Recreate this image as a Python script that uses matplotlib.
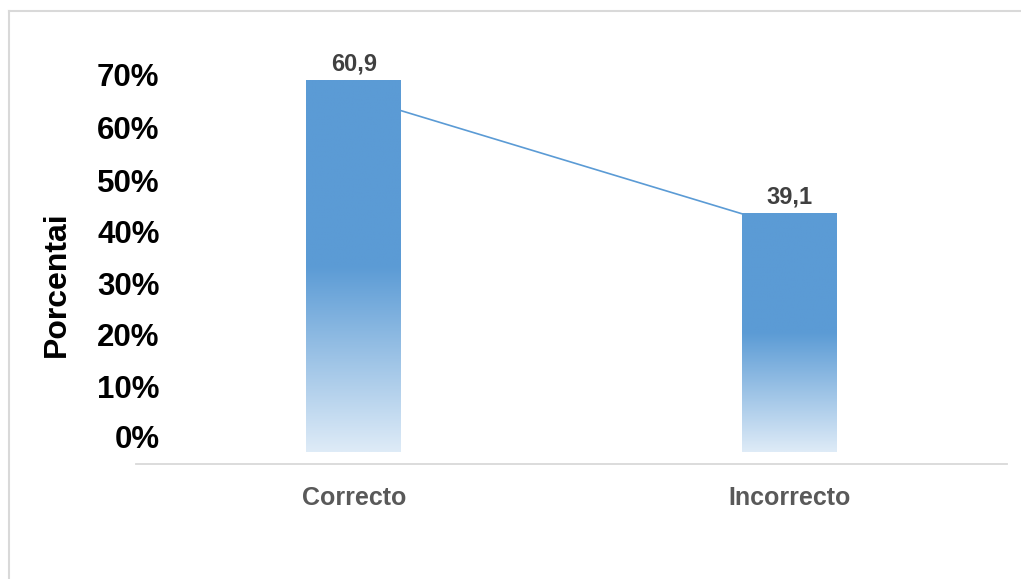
import numpy as np
import matplotlib
matplotlib.use("Agg")
import matplotlib.pyplot as plt
from matplotlib.colors import to_rgb
from matplotlib.lines import Line2D

plt.rcParams['font.family'] = ['Liberation Sans', 'DejaVu Sans']

categories = ['Correcto', 'Incorrecto']
values = [60.9, 39.1]
line_values = [56.0, 39.1]  # connector drawn between the two bars
tick_labels = ['0%', '10%', '20%', '30%', '40%', '50%', '60%', '70%']
tick_pos = [2.5, 10.7, 19.2, 27.7, 36.1, 44.6, 53.3, 61.9]  # labels sit off-scale in the original

blue = to_rgb('#5B9BD5')
pale = to_rgb('#DEEBF7')
bar_w = 0.218

fig = plt.figure(figsize=(10.21, 5.79), dpi=100)
ax = fig.add_axes([0.1332, 0.1986, 0.853, 0.7323])

x = np.arange(len(categories))

# gradient bars: solid top half, fading lower half
n = 200
t = np.linspace(0, 1, n)  # 0 = bottom, 1 = top
frac = np.clip(t / 0.5, 0, 1)
cols = np.array([[pale[i] + (blue[i] - pale[i]) * f for i in range(3)] for f in frac])
img = cols[::-1].reshape(n, 1, 3)
for xi, v in zip(x, values):
    ax.imshow(img, extent=[xi - bar_w / 2, xi + bar_w / 2, 0, v], aspect='auto',
              interpolation='bilinear', zorder=2)
    ax.annotate(f"{v:.1f}".replace('.', ','), (xi, v), xytext=(0, 4),
                textcoords='offset points', ha='center', va='bottom',
                fontsize=17, fontweight='bold', color='#404040')

ax.plot([x[0] + bar_w / 2, x[1] - bar_w / 2], line_values, color='#5B9BD5', lw=1.2, zorder=3)

ax.set_xlim(-0.5, 1.5)
ax.set_ylim(-1.97, 67.6)

for s in ['top', 'right', 'left']:
    ax.spines[s].set_visible(False)
ax.spines['bottom'].set_color('#D9D9D9')
ax.spines['bottom'].set_linewidth(1.3)

ax.set_xticks(x)
ax.set_xticklabels(categories, fontsize=18, fontweight='bold', color='#595959')
ax.tick_params(axis='x', length=0, pad=16)
ax.set_yticks(tick_pos)
ax.set_yticklabels(tick_labels, fontsize=22.5, fontweight='bold', color='black')
ax.tick_params(axis='y', length=0, pad=-17)

fig.text(57 / 1021, 1 - 284 / 579, 'Porcentai', rotation=90, ha='center', va='center',
         fontsize=23, fontweight='bold', color='black')

# outer chart border
bx, by = 9 / 1021, 1 - 11 / 579
fig.add_artist(Line2D([bx, 1], [by, by], color='#D9D9D9', lw=1.5, transform=fig.transFigure))
fig.add_artist(Line2D([bx, bx], [0, by], color='#D9D9D9', lw=1.5, transform=fig.transFigure))

fig.savefig('out.png', dpi=100)
